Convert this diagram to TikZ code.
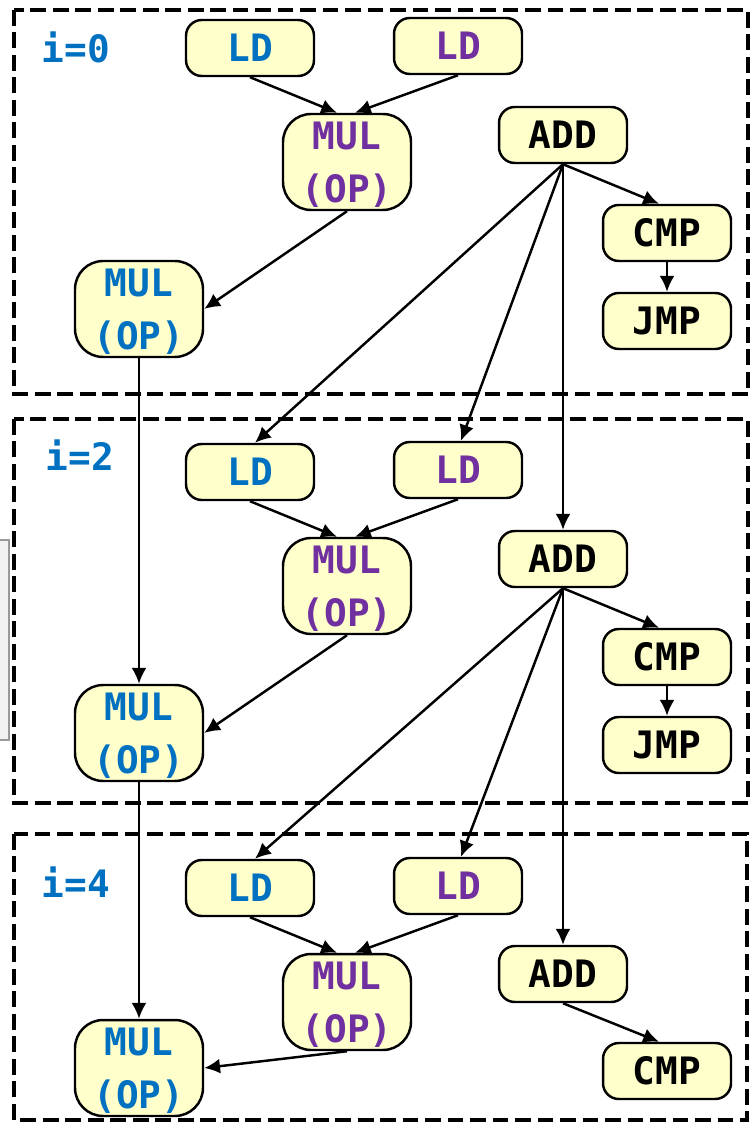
\documentclass[tikz,border=0pt]{standalone}
\usepackage{fontspec}
\setmonofont{DejaVu Sans Mono}
\usetikzlibrary{arrows.meta}
\definecolor{opblue}{RGB}{0,112,192}
\definecolor{oppurple}{RGB}{112,48,160}
\definecolor{opfill}{RGB}{255,255,204}
\tikzset{
  op/.style={draw=black,line width=1.4pt,fill=opfill,rounded corners=9pt,
    minimum width=2.56cm,minimum height=1.12cm,inner sep=0pt,align=center,
    font=\ttfamily\bfseries\fontsize{21.5}{30}\selectfont},
  mulop/.style={op,rounded corners=16pt,minimum height=1.92cm,text depth=-1pt},
  iter/.style={draw=black,line width=2.6pt,dash pattern=on 9pt off 3.8pt},
  dep/.style={-{Latex[length=9pt,width=8.5pt]},line width=1.4pt},
  itlabel/.style={text=opblue,inner sep=0pt,font=\ttfamily\bfseries\fontsize{21.5}{25}\selectfont}
}
\begin{document}
\begin{tikzpicture}[x=0.02cm,y=-0.02cm]
\useasboundingbox (0,0) rectangle (751,1124);

% cut-off panel at the left edge
\fill[gray!10] (0,540) rectangle (9,740);
\draw[gray!80,line width=1pt] (0,540) -- (9,540) -- (9,740) -- (0,740);

% iteration frames
\draw[iter] (14,10) rectangle (748,394);
\draw[iter] (14,419) rectangle (748,803);
\draw[iter] (14,834) rectangle (747,1120);
\node[itlabel] (it0) at (76,47) {i=0};
\node[itlabel] (it2) at (80,455) {i=2};
\node[itlabel] (it4) at (76,882) {i=4};

% i=0
\node[op,text=opblue] (ld0b) at (250,48) {LD};
\node[op,text=oppurple] (ld0p) at (458,46) {LD};
\node[mulop,text=oppurple] (mul0p) at (347,162) {MUL\\(OP)};
\node[op] (add0) at (563,135) {ADD};
\node[op] (cmp0) at (667,233) {CMP};
\node[op] (jmp0) at (667,321) {JMP};
\node[mulop,text=opblue] (mul0b) at (139,309) {MUL\\(OP)};

% i=2
\node[op,text=opblue] (ld2b) at (250,472) {LD};
\node[op,text=oppurple] (ld2p) at (458,470) {LD};
\node[mulop,text=oppurple] (mul2p) at (347,586) {MUL\\(OP)};
\node[op] (add2) at (563,559) {ADD};
\node[op] (cmp2) at (667,657) {CMP};
\node[op] (jmp2) at (667,745) {JMP};
\node[mulop,text=opblue] (mul2b) at (139,733) {MUL\\(OP)};

% i=4
\node[op,text=opblue] (ld4b) at (250,888) {LD};
\node[op,text=oppurple] (ld4p) at (458,886) {LD};
\node[mulop,text=oppurple] (mul4p) at (347,1002) {MUL\\(OP)};
\node[op] (add4) at (563,974) {ADD};
\node[op] (cmp4) at (667,1071) {CMP};
\node[mulop,text=opblue] (mul4b) at (139,1068) {MUL\\(OP)};

% dependences
\draw[dep] (ld0b.south) -- ([shift={(-10,0)}]mul0p.north);
\draw[dep] (ld0p.south) -- ([shift={(8,0)}]mul0p.north);
\draw[dep] (mul0p.south) -- (mul0b.east);
\draw[dep] (add0.south) -- ([shift={(-8,0)}]cmp0.north);
\draw[dep] (cmp0) -- (jmp0);
\draw[dep] (add0.south) -- ([shift={(5,0)}]ld2b.north);
\draw[dep] (add0.south) -- ([shift={(3,0)}]ld2p.north);
\draw[dep] (add0.south) -- (add2.north);
\draw[dep] (mul0b.south) -- (mul2b.north);

\draw[dep] (ld2b.south) -- ([shift={(-10,0)}]mul2p.north);
\draw[dep] (ld2p.south) -- ([shift={(8,0)}]mul2p.north);
\draw[dep] (mul2p.south) -- (mul2b.east);
\draw[dep] (add2.south) -- ([shift={(-8,0)}]cmp2.north);
\draw[dep] (cmp2) -- (jmp2);
\draw[dep] (add2.south) -- ([shift={(5,0)}]ld4b.north);
\draw[dep] (add2.south) -- ([shift={(3,0)}]ld4p.north);
\draw[dep] (add2.south) -- (add4.north);
\draw[dep] (mul2b.south) -- (mul4b.north);

\draw[dep] (ld4b.south) -- ([shift={(-10,0)}]mul4p.north);
\draw[dep] (ld4p.south) -- ([shift={(8,0)}]mul4p.north);
\draw[dep] (mul4p.south) -- (mul4b.east);
\draw[dep] (add4.south) -- ([shift={(-8,0)}]cmp4.north);
\end{tikzpicture}
\end{document}
